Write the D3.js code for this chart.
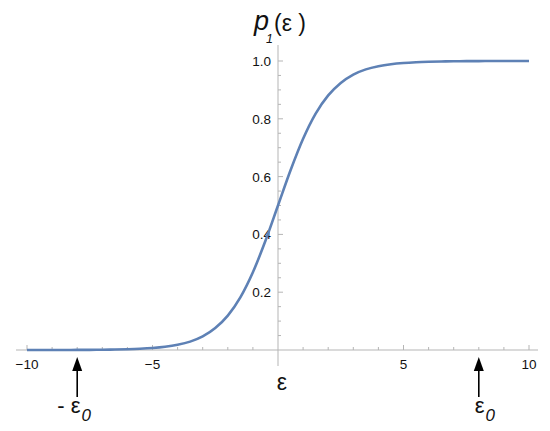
<!DOCTYPE html>
<html>
<head>
<meta charset="utf-8">
<script src="https://cdn.jsdelivr.net/npm/d3@7"></script>
<style>
  body { margin: 0; background: #fff; }
  text { font-family: "Liberation Sans", Arial, sans-serif; fill: #111; }
</style>
</head>
<body>
<div id="vis"></div>
<script>
var width = 550,
	height = 431;

// values
var epsValues = [-10, -9.5, -9, -8.5, -8, -7.5, -7, -6.5, -6, -5.5, -5, -4.5, -4, -3.5, -3, -2.5, -2, -1.5, -1, -0.5,
	0, 0.5, 1, 1.5, 2, 2.5, 3, 3.5, 4, 4.5, 5, 5.5, 6, 6.5, 7, 7.5, 8, 8.5, 9, 9.5, 10];
var pValues = [0.0000, 0.0001, 0.0001, 0.0002, 0.0003, 0.0006, 0.0009, 0.0015, 0.0025, 0.0041, 0.0067, 0.011, 0.018, 0.029, 0.047, 0.076, 0.119, 0.182, 0.269, 0.378,
	0.500, 0.622, 0.731, 0.818, 0.881, 0.924, 0.953, 0.971, 0.982, 0.989, 0.9933, 0.9959, 0.9975, 0.9985, 0.9991, 0.9994, 0.9997, 0.9998, 0.9999, 0.9999, 1.0];

var xTicks = [-10, -5, 5, 10];
var xTickLabels = ["\u221210", "\u22125", "5", "10"];
var yTicks = [0.2, 0.4, 0.6, 0.8, 1.0];
var yTickLabels = ["0.2", "0.4", "0.6", "0.8", "1.0"];
var markers = [-8, 8];
var markerLabels = ["- \u03b5", "\u03b5"];

var x = d3.scaleLinear().domain([-10, 10]).range([27, 529]),
	y = d3.scaleLinear().domain([0, 1]).range([350, 61]);

var axisColor = "#b5b5b5";

var svg = d3.select('#vis')
	.append('svg')
	.attr('width', width)
	.attr('height', height);

// x axis
svg.append("line")
	.attr("x1", 16).attr("x2", 538)
	.attr("y1", y(0)).attr("y2", y(0))
	.style("stroke", axisColor);

svg.selectAll(".xminor")
	.data(d3.range(-10, 11, 1).filter(function(d) { return d !== 0; }))
	.enter()
	.append("line")
	.attr("x1", function(d) { return x(d); })
	.attr("x2", function(d) { return x(d); })
	.attr("y1", y(0))
	.attr("y2", function(d) { return y(0) - (d % 5 === 0 ? 5 : 3); })
	.style("stroke", axisColor);

svg.selectAll(".xlabel")
	.data(xTicks)
	.enter()
	.append("text")
	.attr("x", function(d) { return x(d); })
	.attr("y", y(0) + 19)
	.attr("text-anchor", "middle")
	.style("font-size", "13.5px")
	.text(function(d, i) { return xTickLabels[i]; });

// y axis
svg.append("line")
	.attr("x1", x(0)).attr("x2", x(0))
	.attr("y1", 45).attr("y2", 366)
	.style("stroke", axisColor);

svg.selectAll(".yminor")
	.data(d3.range(1, 21).map(function(d) { return d * 0.05; }))
	.enter()
	.append("line")
	.attr("x1", x(0))
	.attr("x2", function(d, i) { return x(0) + ((i + 1) % 4 === 0 ? 5 : 3); })
	.attr("y1", function(d) { return y(d); })
	.attr("y2", function(d) { return y(d); })
	.style("stroke", axisColor);

svg.selectAll(".ylabel")
	.data(yTicks)
	.enter()
	.append("text")
	.attr("x", x(0) - 7)
	.attr("y", function(d) { return y(d) + 5; })
	.attr("text-anchor", "end")
	.style("font-size", "13.5px")
	.text(function(d, i) { return yTickLabels[i]; });

// curve
var line = d3.line()
	.x(function(d, i) { return x(epsValues[i]); })
	.y(function(d) { return y(d); })
	.curve(d3.curveMonotoneX);

svg.append("path")
	.datum(pValues)
	.attr("d", line)
	.style("fill", "none")
	.style("stroke", "#5e81b5")
	.style("stroke-width", "2.6");

// axis titles
svg.append("text")
	.attr("x", 254).attr("y", 30)
	.style("font-size", "27px")
	.style("font-style", "italic")
	.text("p");
svg.append("text")
	.attr("x", 266).attr("y", 43)
	.style("font-size", "12.5px")
	.style("font-style", "italic")
	.text("1");
svg.append("text")
	.attr("x", 274).attr("y", 31)
	.style("font-size", "23px")
	.text("(\u03b5 )");

svg.append("text")
	.attr("x", x(0) + 4)
	.attr("y", 390)
	.attr("text-anchor", "middle")
	.style("font-size", "23px")
	.text("\u03b5");

// arrows at +/- eps0
svg.selectAll(".shaft")
	.data(markers)
	.enter()
	.append("line")
	.attr("x1", function(d) { return x(d); })
	.attr("x2", function(d) { return x(d); })
	.attr("y1", 397)
	.attr("y2", 368)
	.style("stroke", "#000")
	.style("stroke-width", 1.6);

svg.selectAll(".head")
	.data(markers)
	.enter()
	.append("path")
	.attr("d", function(d) {
		var cx = x(d);
		return "M" + (cx - 5) + ",371 L" + cx + ",357 L" + (cx + 5) + ",371 Z";
	})
	.style("fill", "#000");

var mk = svg.selectAll(".mlabel")
	.data(markers)
	.enter()
	.append("text")
	.attr("x", function(d, i) { return x(d) + (i === 0 ? -20 : -4); })
	.attr("y", 413)
	.style("font-size", "22px");
mk.append("tspan").text(function(d, i) { return markerLabels[i]; });
mk.append("tspan").attr("dy", 8).attr("dx", 1).style("font-size", "17px").style("font-style", "italic").text("0");
</script>
</body>
</html>
